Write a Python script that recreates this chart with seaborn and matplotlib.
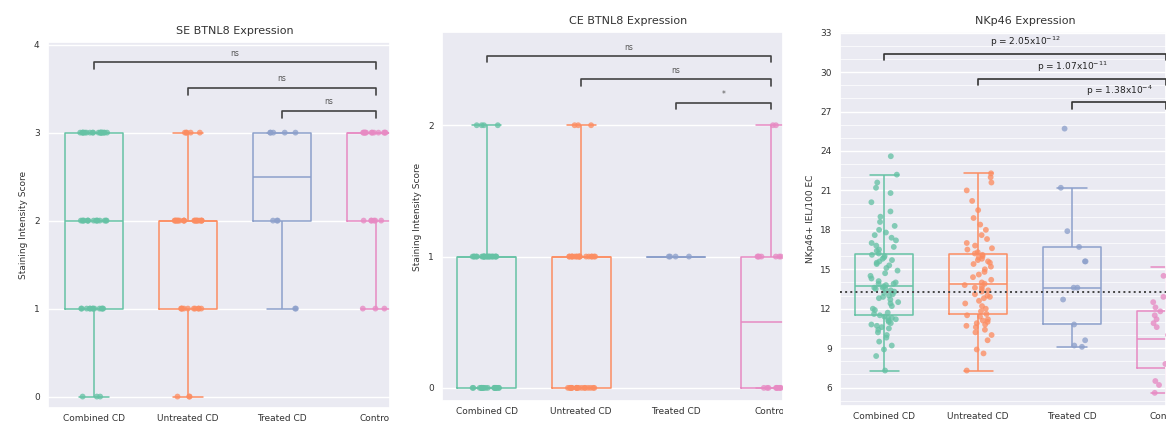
import numpy as np
import pandas as pd
import seaborn as sns
import matplotlib.pyplot as plt
from matplotlib.ticker import MultipleLocator
from matplotlib.transforms import Bbox, TransformedBbox

sns.set_theme(style="darkgrid")
plt.rcParams['font.family'] = ['DejaVu Sans']

groups = ["Combined CD", "Untreated CD", "Treated CD", "Control"]
palette = sns.color_palette("Set2", 4)

# ---- SE BTNL8 staining scores (value levels and counts per group)
score_levels_se = [0, 1, 2, 3]
se_counts = {
    "Combined CD": [3, 12, 15, 18],
    "Untreated CD": [3, 10, 20, 5],
    "Treated CD": [0, 2, 3, 5],
    "Control": [0, 3, 6, 12],
}
se_brackets = [("Combined CD", 3.80, "ns"), ("Untreated CD", 3.51, "ns"), ("Treated CD", 3.25, "ns")]

# ---- CE BTNL8 staining scores
score_levels_ce = [0, 1, 2]
ce_counts = {
    "Combined CD": [20, 22, 4],
    "Untreated CD": [18, 18, 3],
    "Treated CD": [0, 4, 0],
    "Control": [9, 7, 2],
}
ce_brackets = [("Combined CD", 2.53, "ns"), ("Untreated CD", 2.35, "ns"), ("Treated CD", 2.17, "*")]

# ---- NKp46+ IEL / 100 EC
nk_combined = [7.3, 8.4, 8.9, 9.2, 9.5, 9.8, 10.0, 10.2, 10.4, 10.5, 10.6, 10.7, 10.8, 10.9, 11.0,
               11.1, 11.2, 11.3, 11.3, 11.4, 11.5, 11.6, 11.7, 11.9, 12.0, 12.2, 12.4, 12.5, 12.7,
               12.8, 12.9, 13.0, 13.1, 13.2, 13.3, 13.4, 13.5, 13.5, 13.6, 13.6, 13.7, 13.8, 13.9,
               13.9, 14.0, 14.1, 14.3, 14.5, 14.7, 14.9, 15.1, 15.3, 15.4, 15.5, 15.6, 15.7, 15.8,
               15.9, 16.0, 16.1, 16.2, 16.4, 16.5, 16.7, 16.8, 17.0, 17.2, 17.4, 17.6, 17.8, 18.0,
               18.3, 18.6, 19.0, 19.4, 20.1, 20.8, 21.2, 21.6, 22.2, 23.6]
nk_untreated = [7.3, 8.6, 8.9, 9.6, 10.0, 10.2, 10.4, 10.6, 10.7, 10.8, 10.9, 11.0, 11.1, 11.2, 11.4,
                11.5, 11.6, 11.8, 12.0, 12.2, 12.4, 12.6, 12.8, 12.9, 13.0, 13.1, 13.3, 13.4, 13.5,
                13.6, 13.7, 13.8, 13.9, 14.0, 14.2, 14.4, 14.6, 14.8, 15.0, 15.2, 15.4, 15.5, 15.6,
                15.7, 15.8, 15.9, 16.0, 16.1, 16.2, 16.3, 16.5, 16.6, 16.8, 17.0, 17.3, 17.6, 18.0,
                18.4, 18.9, 19.5, 20.2, 21.0, 21.6, 22.0, 22.3]
nk_treated = [9.1, 9.2, 9.6, 10.8, 12.7, 13.6, 13.6, 15.6, 15.6, 16.7, 17.9, 21.2, 25.7]
nk_control = [5.6, 5.9, 6.2, 6.5, 6.8, 7.1, 7.3, 7.5, 7.8, 8.2, 8.6, 8.9, 9.2, 9.5, 9.7, 10.0, 10.3,
              10.6, 10.9, 11.2, 11.5, 11.8, 12.1, 12.5, 12.9, 13.3, 13.8, 14.5, 15.2]
nk_threshold = 13.3
nk_brackets = [("Combined CD", 31.4, r"p = 2.05x10$^{-12}$"),
               ("Untreated CD", 29.5, r"p = 1.07x10$^{-11}$"),
               ("Treated CD", 27.7, r"p = 1.38x10$^{-4}$")]


def counts_df(counts, levels):
    rows = []
    for g in groups:
        for lv, c in zip(levels, counts[g]):
            rows += [(g, lv)] * c
    return pd.DataFrame(rows, columns=["group", "value"])


def lists_df(d):
    rows = []
    for g in groups:
        rows += [(g, v) for v in d[g]]
    return pd.DataFrame(rows, columns=["group", "value"])


se_df = counts_df(se_counts, score_levels_se)
ce_df = counts_df(ce_counts, score_levels_ce)
nk_df = lists_df({"Combined CD": nk_combined, "Untreated CD": nk_untreated,
                  "Treated CD": nk_treated, "Control": nk_control})

W, H = 1166, 426
fig = plt.figure(figsize=(W / 100, H / 100), dpi=100)


def add_ax(l, r, t, b):
    return fig.add_axes([l / W, 1 - b / H, (r - l) / W, (b - t) / H])


def draw(ax, df, jitter):
    sns.boxplot(data=df, x="group", y="value", hue="group", order=groups, hue_order=groups,
                palette=palette, fill=False, width=0.62, showfliers=False, linewidth=1.1,
                legend=False, ax=ax)
    sns.stripplot(data=df, x="group", y="value", hue="group", order=groups, hue_order=groups,
                  palette=palette, jitter=jitter, size=4.2, alpha=0.78, linewidth=0,
                  legend=False, ax=ax)


def brackets(ax, specs, tick, fs, color, textcolor, dy):
    xr = groups.index("Control")
    for g, y, label in specs:
        xl = groups.index(g)
        ax.plot([xl, xl, xr, xr], [y - tick, y, y, y - tick], color=color, lw=1.2,
                clip_on=True, zorder=5)
        ax.text((xl + xr) / 2, y + dy, label, ha="center", va="bottom", fontsize=fs,
                color=textcolor, clip_on=False)


def finish(ax, title, ylabel, xlim, ylim, x0px, x1px):
    ax.set_xlim(*xlim)
    ax.set_ylim(*ylim)
    ax.set_xlabel("")
    ax.set_ylabel(ylabel, fontsize=6.5, color="#333333", labelpad=4)
    ax.tick_params(axis="both", which="both", length=0, labelsize=6.5, colors="#333333")
    ax.tick_params(axis="x", pad=4)
    ax.tick_params(axis="y", pad=6)
    frac = (1.5 - xlim[0]) / (xlim[1] - xlim[0])
    ax.set_title(title, fontsize=8, x=frac, pad=6, color="#333333")
    clip = TransformedBbox(Bbox([[x0px / W, 0], [x1px / W, 1]]), fig.transFigure)
    for lab in ax.get_xticklabels():
        lab.set_clip_box(clip)
        lab.set_clip_on(True)


# Panel 1
ax1 = add_ax(48, 390, 42, 408)
draw(ax1, se_df, 0.15)
ax1.set_yticks([0, 1, 2, 3, 4])
brackets(ax1, se_brackets, 0.08, 5.5, "#444444", "#555555", 0.05)
finish(ax1, "SE BTNL8 Expression", "Staining Intensity Score", (-0.49, 3.15), (-0.13, 4.03), 0, 390)

# Panel 2
ax2 = add_ax(442, 783, 32, 401)
draw(ax2, ce_df, 0.15)
ax2.set_yticks([0, 1, 2])
brackets(ax2, ce_brackets, 0.05, 5.5, "#444444", "#555555", 0.03)
finish(ax2, "CE BTNL8 Expression", "Staining Intensity Score", (-0.47, 3.13), (-0.1, 2.71), 400, 783)

# Panel 3
ax3 = add_ax(840, 1166, 32, 406)
draw(ax3, nk_df, 0.15)
ax3.axhline(nk_threshold, ls=":", color="#444444", lw=1.4, zorder=4)
ax3.set_yticks(np.arange(6, 34, 3))
ax3.yaxis.set_minor_locator(MultipleLocator(1))
ax3.grid(which="minor", axis="y", color="white", lw=0.5)
brackets(ax3, nk_brackets, 0.5, 6.5, "#333333", "#222222", 0.35)
finish(ax3, "NKp46 Expression", "NKp46+ IEL/100 EC", (-0.47, 3.0), (4.6, 33.05), 790, 1166)

fig.savefig("out.png", dpi=100)
